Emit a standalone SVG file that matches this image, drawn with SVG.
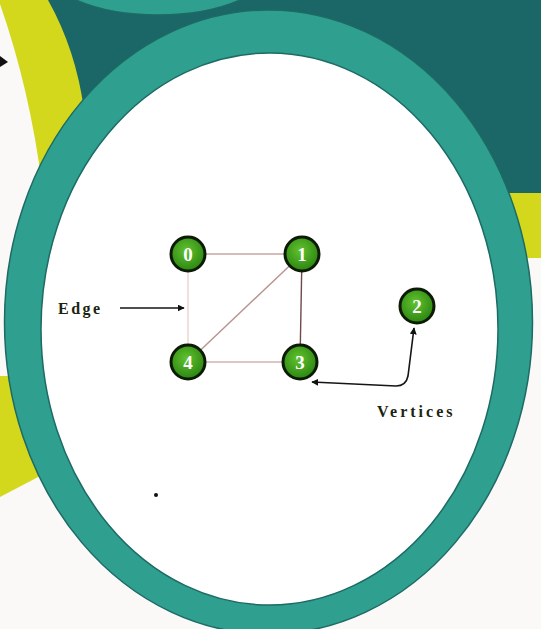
<svg xmlns="http://www.w3.org/2000/svg" width="541" height="629" viewBox="0 0 541 629">
  <defs>
    <radialGradient id="nodeGrad" cx="45%" cy="40%" r="60%">
      <stop offset="0" stop-color="#62c22e"/>
      <stop offset="1" stop-color="#2c8612"/>
    </radialGradient>
    <marker id="arrow" viewBox="0 0 10 10" refX="9" refY="5" markerWidth="7" markerHeight="7" markerUnits="userSpaceOnUse" orient="auto-start-reverse">
      <path d="M0,0 L10,5 L0,10 z" fill="#111"/>
    </marker>
    <style>
      .node circle { fill: url(#nodeGrad); stroke: #0c1a06; stroke-width: 3; }
      .node text { font-family: "Liberation Serif", "DejaVu Serif", serif; font-weight: bold; font-size: 19px; fill: #ffffff; text-anchor: middle; }
      .edge { fill: none; stroke-width: 1.4; }
      .pointer { fill: none; stroke: #151515; stroke-width: 1.6; }
      .label { font-family: "Liberation Serif", "DejaVu Serif", serif; font-weight: bold; font-size: 16px; fill: #1c2410; }
      .yellow { fill: #d3d81c; }
    </style>
  </defs>

  <!-- background -->
  <g id="background">
    <rect x="0" y="0" width="541" height="629" fill="#fbf8f8"/>
    <path d="M46,0 L541,0 L541,193 L268,195 L82,112 Q76,50 46,0 Z" fill="#1b6666"/>
    <path class="yellow" d="M0,0 L48,0 Q76,50 84,110 L60,200 L42,185 Q30,90 0,4 Z"/>
    <path class="yellow" d="M0,376 L22,376 L40,476 L0,497 Z"/>
    <path class="yellow" d="M505,193 L541,193 L541,258 L505,258 Z"/>
    <ellipse cx="158" cy="-35" rx="115" ry="50" fill="#2f9f8f" stroke="#1d6b64" stroke-width="1.5"/>
    <path d="M0,56 L8,62 L0,67 Z" fill="#111"/>
  </g>

  <!-- ring -->
  <g id="ring">
    <ellipse cx="268.5" cy="322" rx="264" ry="312" fill="#2f9f8f" stroke="#1d6b64" stroke-width="1.5"/>
    <ellipse cx="269.5" cy="329" rx="228.5" ry="276" fill="#ffffff" stroke="#1d6b64" stroke-width="1.5"/>
  </g>

  <!-- connectors -->
  <g id="connectors">
    <line class="edge" x1="188" y1="254" x2="302" y2="254" stroke="#c9a4a4"/>
    <line class="edge" x1="188" y1="254" x2="188" y2="362" stroke="#ead2d2"/>
    <line class="edge" x1="302" y1="254" x2="188" y2="362" stroke="#b99292"/>
    <line class="edge" x1="302" y1="254" x2="300" y2="362" stroke="#6e4a4a"/>
    <line class="edge" x1="188" y1="362" x2="300" y2="362" stroke="#d5b3b3"/>
    <line class="pointer" x1="120" y1="308" x2="184" y2="308" marker-end="url(#arrow)"/>
    <path class="pointer" d="M414,328 L408,376 Q406,386 396,386 L312,382" marker-start="url(#arrow)" marker-end="url(#arrow)"/>
  </g>

  <!-- nodes -->
  <g id="node0" class="node"><circle cx="188" cy="254" r="17"/><text x="188" y="261">0</text></g>
  <g id="node1" class="node"><circle cx="302" cy="254" r="17"/><text x="302" y="261">1</text></g>
  <g id="node2" class="node"><circle cx="417" cy="306" r="17"/><text x="417" y="313">2</text></g>
  <g id="node3" class="node"><circle cx="300" cy="362" r="17"/><text x="300" y="369">3</text></g>
  <g id="node4" class="node"><circle cx="188" cy="362" r="17"/><text x="188" y="369">4</text></g>

  <!-- labels -->
  <g id="labels">
    <text class="label" x="58" y="314" letter-spacing="2.5">Edge</text>
    <text class="label" x="377" y="417" letter-spacing="3">Vertices</text>
    <circle cx="156" cy="495" r="2" fill="#111"/>
  </g>
</svg>
